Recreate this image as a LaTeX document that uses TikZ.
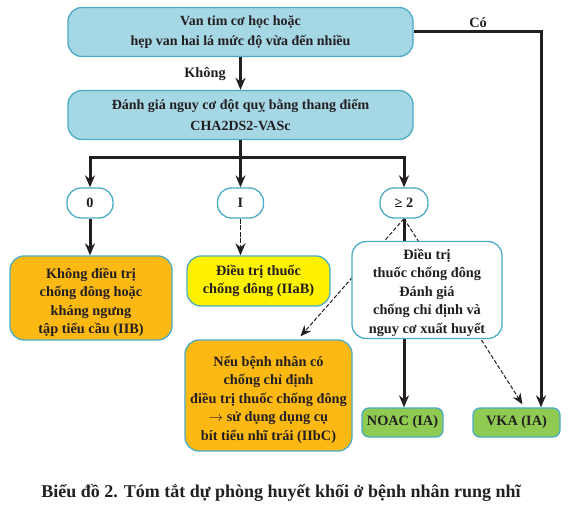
\documentclass[tikz,border=0pt]{standalone}
\usepackage{fontspec}
\setmainfont{Liberation Serif}
\usetikzlibrary{arrows.meta, backgrounds}
\definecolor{boxblue}{HTML}{A6D7E5}
\definecolor{rimblue}{HTML}{4BACC6}
\definecolor{orng}{HTML}{FDB913}
\definecolor{yell}{HTML}{FFF200}
\definecolor{grn}{HTML}{8FCB52}
\definecolor{ink}{HTML}{231F20}
\newcommand{\pad}{\rule{0pt}{19pt}}

\begin{document}
\begin{tikzpicture}[x=1pt, y=-1pt,
    every node/.style={font=\fontsize{14.3}{18.5}\selectfont\bfseries, text=ink, align=center, inner sep=0pt},
    box/.style={draw=rimblue, line width=1.3pt, rounded corners=14pt},
    bluebox/.style={box, fill=boxblue, minimum width=345pt, minimum height=49pt, font=\fontsize{14}{20.5}\selectfont\bfseries},
    oval/.style={box, fill=white, minimum height=30pt},
    greenbox/.style={box, fill=grn, rounded corners=7pt, minimum height=29pt},
    arr/.style={ink, line width=3pt, -{Stealth[length=12pt, width=10pt]}},
    darr/.style={ink, line width=1pt, dash pattern=on 4pt off 2pt, -{Stealth[length=11pt, width=9pt]}}]
    \useasboundingbox (0,0) rectangle (569,510);
    \node[bluebox] (valve) at (240.5,32) {Van tim cơ học hoặc\\hẹp van hai lá mức độ vừa đến nhiều};
    \node[bluebox] (score) at (240.5,115) {Đánh giá nguy cơ đột quỵ bằng thang điểm\\CHA2DS2-VASc};
    \node[oval, minimum width=46pt] (s0) at (90,203) {0};
    \node[oval, minimum width=46pt] (s1) at (240.5,203) {I};
    \node[oval, minimum width=48pt] (s2) at (404,203) {≥ 2};
    \node[box, fill=orng, minimum width=162pt, minimum height=84pt] (noanti) at (91,298) {\pad Không điều trị\\chống đông hoặc\\kháng ngưng\\tập tiểu cầu (IIB)};
    \node[box, fill=yell, minimum width=143pt, minimum height=50pt] (anti) at (258.5,281) {Điều trị thuốc\\chống đông (IIaB)};
    \node[box, fill=white, minimum width=150pt, minimum height=97pt] (assess) at (427,290) {\rule{0pt}{16pt}Điều trị\\thuốc chống đông\\Đánh giá\\chống chỉ định và\\nguy cơ xuất huyết};
    \node[box, fill=orng, minimum width=167pt, minimum height=111pt] (laa) at (268.5,395.5) {\pad Nếu bệnh nhân có\\chống chỉ định\\điều trị thuốc chống đông\\$\rightarrow$ sử dụng dụng cụ\\bít tiểu nhĩ trái (IIbC)};
    \node[greenbox, minimum width=81pt] (noac) at (402.5,422.5) {NOAC (IA)};
    \node[greenbox, minimum width=87pt] (vka) at (516.5,422.5) {VKA (IA)};
    \node (no) at (205,74) {Không};
    \node (yes) at (478,23) {Có};
    \node (cap) at (281,493) {\fontsize{18}{20}\selectfont Biểu đồ 2. Tóm tắt dự phòng huyết khối ở bệnh nhân rung nhĩ};
    \coordinate (bL) at (90,158);
    \coordinate (bR) at (404,158);
    \draw[arr] (valve) -- (score);
    \draw[arr] (valve.east) -| ([xshift=24.5pt]vka.north);
    \draw[arr] (score.south) -- (s1.north);
    \draw[arr, line cap=rect] (bR) -- (bL) -- (s0.north);
    \draw[arr] (bR) -- (s2.north);
    \draw[arr] (s0.south) -- (s0.south |- noanti.north);
    \draw[arr, line width=1.6pt, dash pattern=on 5pt off 1.5pt] (s1.south) -- (s1.south |- anti.north);
    \begin{scope}[on background layer]
        \fill[white] (0,0) rectangle (569,510);
        \draw[arr] (s2.south) -- (s2.south |- noac.north);
        \draw[darr] (s2.south) -- ([xshift=32pt, yshift=3pt]laa.north);
        \draw[darr] (s2.south) -- ([xshift=6pt, yshift=3pt]vka.north);
    \end{scope}
\end{tikzpicture}
\end{document}
